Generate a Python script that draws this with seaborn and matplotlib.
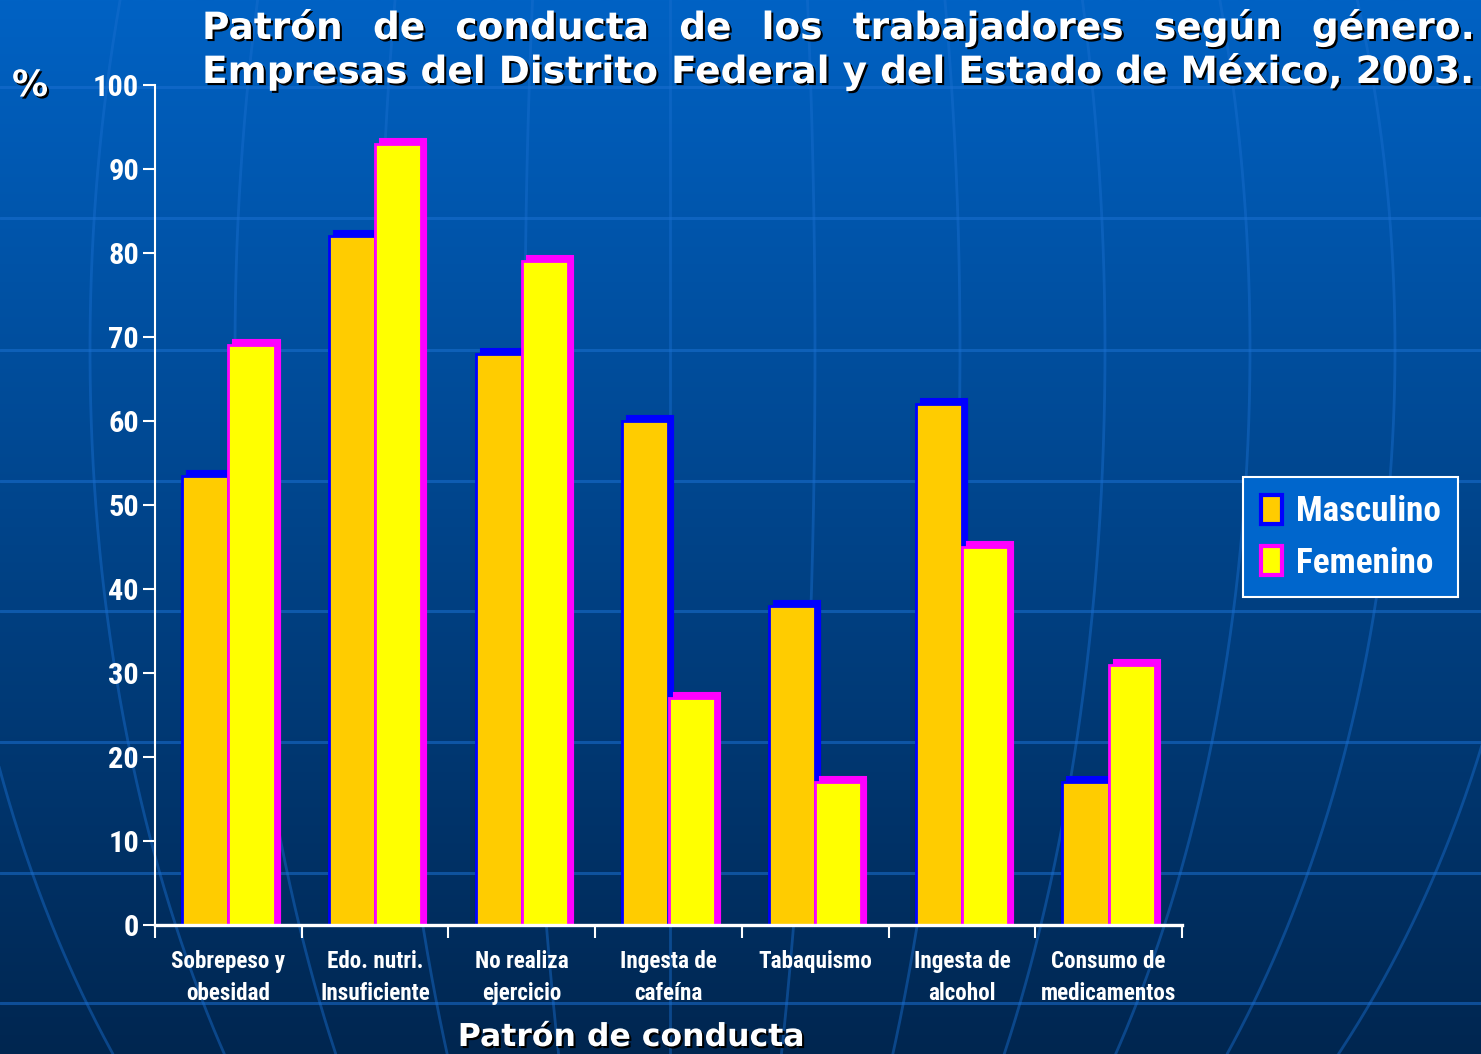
import numpy as np
import pandas as pd
import matplotlib
matplotlib.use("Agg")
import matplotlib.pyplot as plt
import seaborn as sns
from matplotlib.patches import Rectangle, Patch
from matplotlib.transforms import ScaledTranslation
from matplotlib.font_manager import FontProperties, fontManager
import matplotlib.patheffects as pe

# ---------------- data ----------------
categorias = ["Sobrepeso y\nobesidad", "Edo. nutri.\nInsuficiente", "No realiza\nejercicio",
              "Ingesta de\ncafeína", "Tabaquismo", "Ingesta de\nalcohol", "Consumo de\nmedicamentos"]
masculino = [53.5, 82, 68, 60, 38, 62, 17]
femenino = [69, 93, 79, 27, 17, 45, 31]
generos = ["Masculino", "Femenino"]
y_ticks = list(range(0, 101, 10))
titulo_1 = "Patrón de conducta de los trabajadores según género."
titulo_2 = "Empresas del Distrito Federal y del Estado de México, 2003."
eje_x = "Patrón de conducta"
eje_y = "%"

# ---------------- style ----------------
W, H, DPI = 1481, 1054, 100
FACE = {"Masculino": "#FFCC00", "Femenino": "#FFFF00"}
EDGE = {"Masculino": "#0000FF", "Femenino": "#FF00FF"}

sns.set_theme(style="white")
plt.rcParams["font.family"] = ["DejaVu Sans"]
installed = {f.name for f in fontManager.ttflist}
narrow_pref = ["Liberation Sans Narrow", "Roboto Condensed", "DejaVu Sans Condensed", "Roboto", "Liberation Sans"]
NARROW_NAME = next((f for f in narrow_pref if f in installed), "DejaVu Sans")
NARROW = [NARROW_NAME, "DejaVu Sans"]
IS_NARROW = NARROW_NAME in ("Liberation Sans Narrow", "Roboto Condensed", "DejaVu Sans Condensed")
k = 1.15 if IS_NARROW else 1.0

fig = plt.figure(figsize=(W / DPI, H / DPI), dpi=DPI)

# ---------------- background ----------------
bg = fig.add_axes([0, 0, 1, 1], zorder=-10)
top_c = np.array([0, 98, 196]) / 255
bot_c = np.array([0, 38, 80]) / 255
t = np.linspace(0, 1, 400)[:, None]
grad = top_c * (1 - t) + bot_c * t
bg.imshow(grad[:, None, :], aspect="auto", extent=[0, W, H, 0])
bg.set_xlim(0, W)
bg.set_ylim(H, 0)
bg.axis("off")
# globe decoration: parallels and meridians
for yl in [87, 218, 350, 481, 611, 742, 873, 1003]:
    bg.plot([0, W], [yl, yl], color="#1a6fd0", alpha=0.55, lw=2.2)
ys = np.linspace(0, H, 300)
g = np.sqrt(np.clip(1 - ((ys - 350) / 1100) ** 2, 0, None))
for n in range(-5, 7):
    bg.plot(670 + 145 * n * g, ys, color="#1a6fd0", alpha=0.45, lw=2.0)

# ---------------- main axes ----------------
ax = fig.add_axes([155 / W, (H - 925) / H, (1182 - 155) / W, (925 - 85) / H])
ax.patch.set_alpha(0)

df = pd.DataFrame({
    "categoria": categorias * 2,
    "genero": [generos[0]] * len(categorias) + [generos[1]] * len(categorias),
    "valor": masculino + femenino,
})
sns.barplot(data=df, x="categoria", y="valor", hue="genero", hue_order=generos,
            palette=FACE, saturation=1, width=0.63, errorbar=None, legend=False, ax=ax)

off = 5  # px depth of the pseudo-3D border
for cont, gen, zb in zip(ax.containers, generos, [2.0, 2.2]):
    ec = EDGE[gen]
    for bar in cont:
        bar.set_edgecolor(ec)
        bar.set_linewidth(2.0)
        bar.set_zorder(zb + 0.1)
        x, y = bar.get_xy()
        w, h = bar.get_width(), bar.get_height()
        for dx, dy in [(off, 0), (off, off)]:
            r = Rectangle((x, y), w, h, facecolor=ec, edgecolor=ec, lw=1.5, zorder=zb,
                          transform=ax.transData + ScaledTranslation(dx / DPI, dy / DPI, fig.dpi_scale_trans))
            ax.add_patch(r)

ax.set_xlim(-0.5, len(categorias) - 0.5)
ax.set_ylim(0, 100)
ax.set_yticks(y_ticks)
ax.set_xticks(range(len(categorias)))
ax.set_xticklabels(categorias)
ax.set_xticks(np.arange(-0.5, len(categorias), 1), minor=True)
ax.set_xlabel("")
ax.set_ylabel("")
for s in ["top", "right"]:
    ax.spines[s].set_visible(False)
ax.spines["left"].set_color("white")
ax.spines["left"].set_linewidth(1.5)
ax.spines["bottom"].set_color("white")
ax.spines["bottom"].set_linewidth(2.4)
ax.tick_params(axis="y", direction="out", length=8.5, width=1.5, color="white",
               labelcolor="white", pad=3, left=True)
ax.tick_params(axis="x", which="major", length=0, labelcolor="white", pad=18, bottom=True)
ax.tick_params(axis="x", which="minor", direction="out", length=9, width=1.5, color="white", bottom=True)

for lab in ax.get_yticklabels():
    lab.set_fontfamily(NARROW)
    lab.set_fontweight("bold")
    lab.set_fontsize(19 * k)
for lab in ax.get_xticklabels():
    lab.set_fontfamily(NARROW)
    lab.set_fontweight("bold")
    lab.set_fontsize(14.5 * k)
    lab.set_linespacing(1.5)

# ---------------- legend ----------------
handles = [Patch(facecolor=FACE[gn], edgecolor=EDGE[gn], lw=3, label=gn) for gn in generos]
leg = fig.legend(handles=handles, loc="upper left", bbox_to_anchor=(1243 / W, 1 - 477 / H),
                 bbox_transform=fig.transFigure, frameon=True, fancybox=False,
                 facecolor="#0066CC", edgecolor="white", framealpha=1,
                 prop=FontProperties(family=NARROW, weight="bold", size=22 * k),
                 labelcolor="white", handlelength=0.6, handleheight=0.9, handletextpad=0.4,
                 borderpad=0.5, labelspacing=0.5, borderaxespad=0)
leg.get_frame().set_linewidth(1.5)

# ---------------- texts ----------------
shadow = [pe.withSimplePatchShadow(offset=(1.5, -1.5), shadow_rgbFace="black", alpha=1.0)]
renderer = fig.canvas.get_renderer()


def ftext(x, y, s, **kw):
    return fig.text(x / W, 1 - y / H, s, color="white", fontweight="bold",
                    path_effects=shadow, **kw)


def fit_size(s, target, base=24):
    tt = fig.text(0, 0, s, fontsize=base, fontweight="bold")
    wpx = tt.get_window_extent(renderer).width
    tt.remove()
    return base * target / wpx


x0, x1 = 202, 1475
fs_title = fit_size(titulo_2, x1 - x0)
ftext(x0, 83, titulo_2, fontsize=fs_title, va="baseline", ha="left")

words = titulo_1.split()
wts = []
for wd in words:
    tt = fig.text(0, 0, wd, fontsize=fs_title, fontweight="bold")
    wts.append(tt.get_window_extent(renderer).width)
    tt.remove()
gap = ((x1 - x0) - sum(wts)) / (len(words) - 1)
xc = x0
for wd, wpx in zip(words, wts):
    ftext(xc, 39, wd, fontsize=fs_title, va="baseline", ha="left")
    xc += wpx + gap

fs_xl = fit_size(eje_x, 805 - 458)
ftext(631, 1052, eje_x, fontsize=fs_xl, va="bottom", ha="center")
ftext(12, 96, eje_y, fontsize=26, va="baseline", ha="left")

fig.savefig("out.png", dpi=DPI)
